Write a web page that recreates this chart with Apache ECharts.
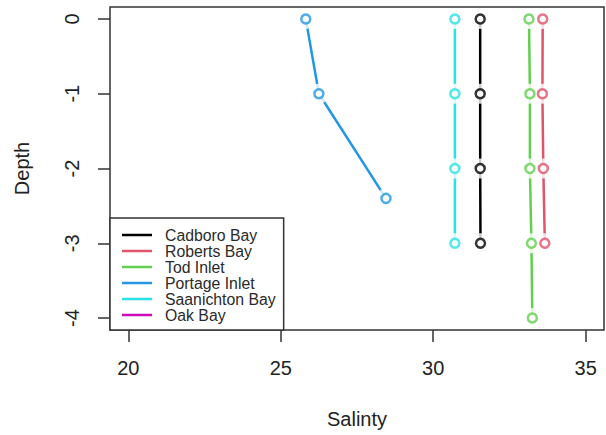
<!DOCTYPE html>
<html>
<head>
<meta charset="utf-8">
<script src="https://cdn.jsdelivr.net/npm/echarts@6/dist/echarts.min.js"></script>
<style>
  html, body { margin: 0; padding: 0; background: #fff; }
  #chart { width: 606px; height: 435px; }
</style>
</head>
<body>
<div id="chart"></div>
<script>
// Salinity profiles by site (depth in m, salinity in PSU)
const siteNames = ['Cadboro Bay', 'Roberts Bay', 'Tod Inlet', 'Portage Inlet', 'Saanichton Bay', 'Oak Bay'];
const siteColors = ['#000000', '#DF536B', '#61D04F', '#2297E6', '#28E2E5', '#CD0BBC'];

const cadboroDepth = [0, -1, -2, -3];
const cadboroSalinity = [31.54, 31.54, 31.54, 31.55];

const robertsDepth = [0, -1, -2, -3];
const robertsSalinity = [33.59, 33.58, 33.61, 33.66];

const todDepth = [0, -1, -2, -3, -4];
const todSalinity = [33.14, 33.17, 33.17, 33.22, 33.25];

const portageDepth = [0, -1, -2.4];
const portageSalinity = [25.82, 26.25, 28.45];

const saanichtonDepth = [0, -1, -2, -3];
const saanichtonSalinity = [30.71, 30.71, 30.71, 30.71];

const oakDepth = [];
const oakSalinity = [];

const xTicks = [20, 25, 30, 35];
const yTicks = [0, -1, -2, -3, -4];

const depthLists = [cadboroDepth, robertsDepth, todDepth, portageDepth, saanichtonDepth, oakDepth];
const salinityLists = [cadboroSalinity, robertsSalinity, todSalinity, portageSalinity, saanichtonSalinity, oakSalinity];

function pairs(i) {
  return salinityLists[i].map((s, k) => [s, depthLists[i][k]]);
}

const series = [];
siteNames.forEach((name, i) => {
  // connecting line
  series.push({
    name: name,
    type: 'line',
    data: pairs(i),
    showSymbol: false,
    symbol: 'none',
    lineStyle: { color: siteColors[i], width: 2.5 },
    itemStyle: { color: siteColors[i] },
    z: 1,
    silent: true,
    animation: false
  });
  // white halo leaving a gap between line and point
  series.push({
    type: 'scatter',
    data: pairs(i),
    symbol: 'circle',
    symbolSize: 20,
    itemStyle: { color: '#ffffff' },
    z: 2,
    silent: true,
    animation: false
  });
  // open circle marker
  series.push({
    type: 'scatter',
    data: pairs(i),
    symbol: 'circle',
    symbolSize: 9,
    itemStyle: { color: '#ffffff', borderColor: siteColors[i], borderWidth: 2.5 },
    z: 3,
    silent: true,
    animation: false
  });
});

const chart = echarts.init(document.getElementById('chart'), null, { renderer: 'svg' });
chart.setOption({
  backgroundColor: '#ffffff',
  animation: false,
  grid: {
    left: 110, right: 2, top: 7, bottom: 105,
    show: true, borderColor: '#333', borderWidth: 1.5, backgroundColor: 'transparent'
  },
  xAxis: {
    type: 'value',
    min: 19.4, max: 35.6,
    name: 'Salinty',
    nameLocation: 'middle',
    nameGap: 79,
    nameTextStyle: { fontFamily: 'Liberation Sans', fontSize: 20, color: '#222' },
    axisLine: { show: false, onZero: false },
    splitLine: { show: false },
    axisTick: { show: true, length: 12, customValues: xTicks, lineStyle: { color: '#333', width: 1.5 } },
    axisLabel: { customValues: xTicks, margin: 28, fontFamily: 'Liberation Sans', fontSize: 20, color: '#222' }
  },
  yAxis: {
    type: 'value',
    min: -4.16, max: 0.16,
    name: 'Depth',
    nameLocation: 'middle',
    nameGap: 78,
    nameRotate: 90,
    nameTextStyle: { fontFamily: 'Liberation Sans', fontSize: 20, color: '#222' },
    axisLine: { show: false, onZero: false },
    splitLine: { show: false },
    axisTick: { show: true, length: 12, customValues: yTicks, lineStyle: { color: '#333', width: 1.5 } },
    axisLabel: { customValues: yTicks, rotate: 90, margin: 28, fontFamily: 'Liberation Sans', fontSize: 20, color: '#222' }
  },
  legend: {
    data: siteNames.map(n => ({ name: n, icon: 'rect' })),
    orient: 'vertical',
    left: 110,
    top: 218,
    backgroundColor: '#ffffff',
    borderColor: '#333',
    borderWidth: 1.5,
    borderRadius: 0,
    padding: [9, 8, 7, 12],
    itemWidth: 30,
    itemHeight: 2.5,
    itemGap: 0,
    selectedMode: false,
    textStyle: { fontFamily: 'Liberation Sans', fontSize: 15.8, lineHeight: 15.8, color: '#2a2a2a', padding: [0, 0, 0, 8] },
    z: 10
  },
  series: series
});
</script>
</body>
</html>
